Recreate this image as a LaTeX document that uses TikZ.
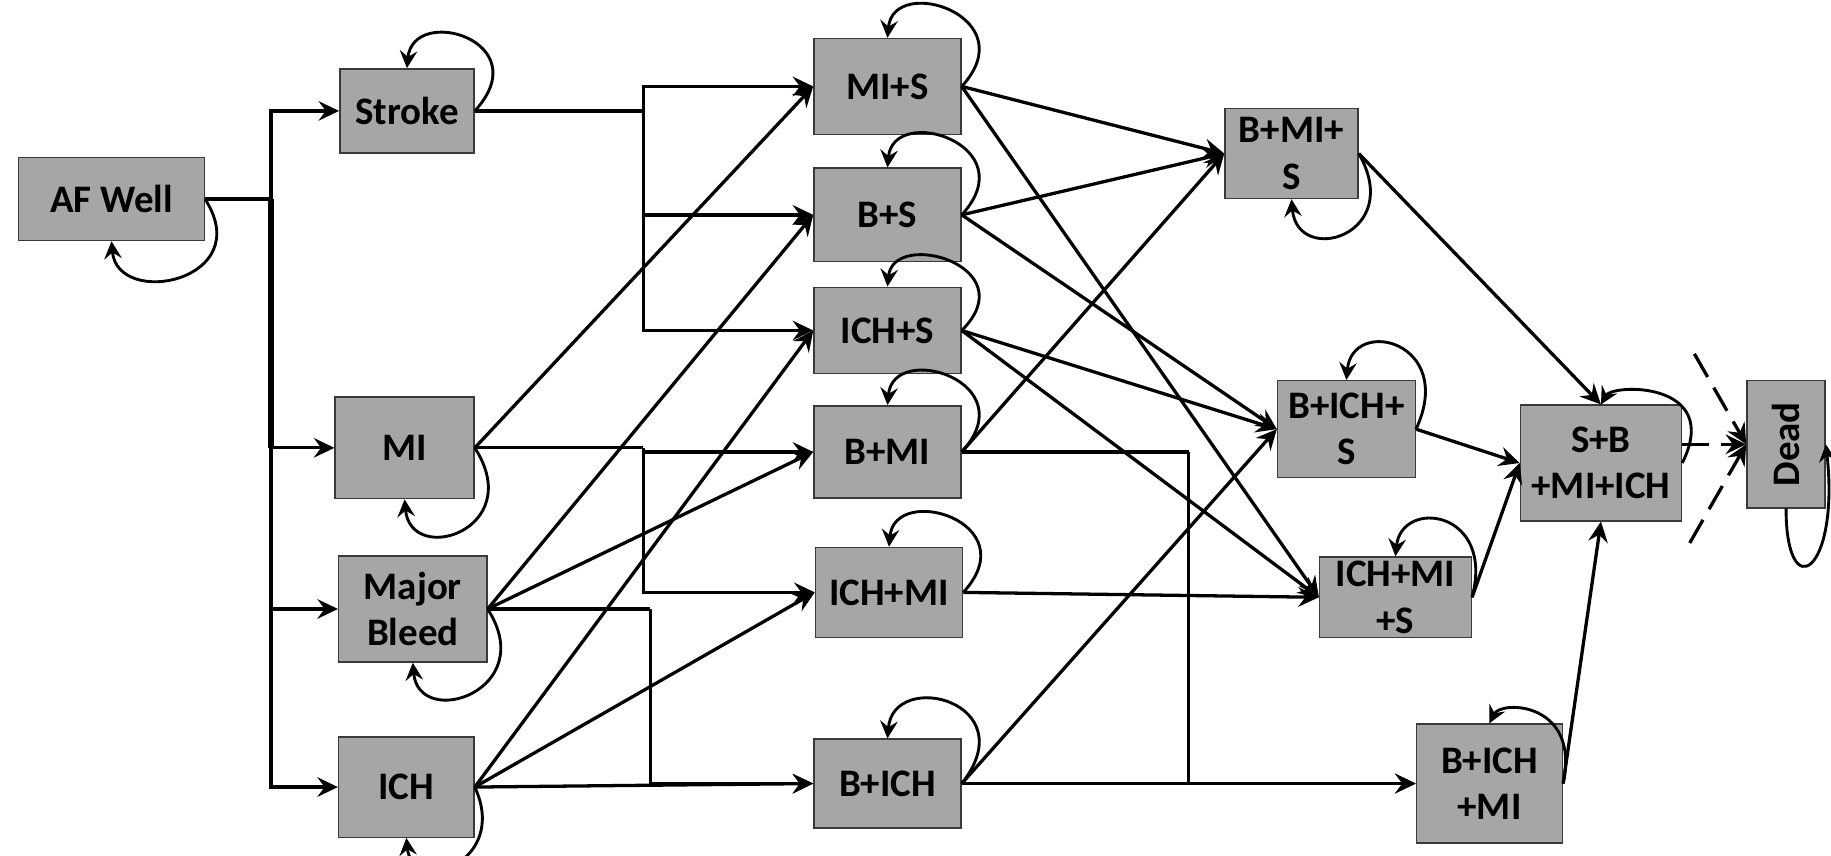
\documentclass[tikz,border=0pt]{standalone}
\usepackage{fontspec}
\usepackage{graphicx}
\setmainfont{Carlito}
\usetikzlibrary{arrows.meta}
\definecolor{boxgray}{HTML}{A6A6A6}
\definecolor{boxline}{HTML}{3A3A3A}
\tikzset{
  box/.style={draw=boxline, fill=boxgray, line width=0.7pt, align=center, inner sep=0pt,
    font=\bfseries\fontsize{19}{22.5}\selectfont},
  conn/.style={line width=1.6pt},
  arr/.style={line width=1.6pt, -{Stealth[length=10pt,width=9.5pt,inset=3.5pt]}},
  selfloop/.style={line width=1.4pt, -{Stealth[length=8.5pt,width=8.5pt,inset=3pt]}},
  dashedarr/.style={line width=1.6pt, dash pattern=on 13pt off 6pt, -{Stealth[length=10pt,width=9.5pt,inset=3.5pt]}}
}
\begin{document}
\begin{tikzpicture}[x=0.02cm, y=-0.02cm]
\useasboundingbox (0,0) rectangle (1568,733);

% ---------- nodes ----------
\node[box, minimum width=3.18cm, minimum height=1.42cm] (AF) at (95.5,170.5) {AF Well};
\node[box, minimum width=2.30cm, minimum height=1.44cm] (Stroke) at (348.5,95) {Stroke};
\node[box, minimum width=2.38cm, minimum height=1.74cm] (MI) at (346.5,383.5) {MI};
\node[box, minimum width=2.54cm, minimum height=1.82cm] (MB) at (353.5,521.5) {Major\\Bleed};
\node[box, minimum width=2.32cm, minimum height=1.72cm] (ICH) at (348,674) {ICH};

\node[box, minimum width=2.52cm, minimum height=1.64cm] (MIS) at (760,74) {MI+S};
\node[box, minimum width=2.52cm, minimum height=1.60cm] (BS) at (760,184) {B+S};
\node[box, minimum width=2.52cm, minimum height=1.48cm] (ICHS) at (760,283) {ICH+S};
\node[box, minimum width=2.52cm, minimum height=1.58cm] (BMI) at (760,387) {B+MI};
\node[box, minimum width=2.52cm, minimum height=1.54cm] (ICHMI) at (761.3,507.3) {ICH+MI};
\node[box, minimum width=2.52cm, minimum height=1.52cm] (BICH) at (760,671) {B+ICH};

\node[box, minimum width=2.28cm, minimum height=1.54cm] (BMIS) at (1106,131.5) {B+MI+\\S};
\node[box, minimum width=2.36cm, minimum height=1.66cm] (BICHS) at (1153,367.5) {B+ICH+\\S};
\node[box, minimum width=2.60cm, minimum height=1.38cm] (ICHMIS) at (1195,511.5) {ICH+MI\\+S};
\node[box, minimum width=2.76cm, minimum height=1.98cm] (SBMI) at (1371,396.5) {S+B\\+MI+ICH};
\node[box, minimum width=2.50cm, minimum height=2.04cm] (BICHMI) at (1275.5,671) {B+ICH\\+MI};
\node[box, minimum width=1.34cm, minimum height=2.18cm] (Dead) at (1529.5,380.5) {\rotatebox{90}{Dead}};

% ---------- bus points ----------
\coordinate (b1) at (232,170.5);
\coordinate (b2) at (551,95);
\coordinate (b3) at (551,383.5);
\coordinate (b4) at (557,521.5);
\coordinate (b5) at (1018,387);
\coordinate (d1) at (1451,303);
\coordinate (d2) at (1447,465);

% ---------- AF Well bus ----------
\draw[conn] (AF.east) -- (b1);
\draw[line width=2.6pt] (b1) -- (b1 |- MI);
\draw[arr] (b1) |- (Stroke);
\draw[arr] (b1) |- (MI);
\draw[arr] (b1) |- (MB);
\draw[arr] (b1) |- (ICH);

% ---------- Stroke bus ----------
\draw[conn] (Stroke.east) -- (b2);
\draw[arr] (b2) |- (MIS);
\draw[arr] (b2) |- (BS);
\draw[arr] (b2) |- (ICHS);

% ---------- MI ----------
\draw[conn] (MI.east) -- (b3);
\draw[arr] (b3) |- (BMI);
\draw[arr] (b3) |- (ICHMI);
\draw[arr] (MI.east) -- (MIS.west);

% ---------- Major Bleed ----------
\draw[conn] (MB.east) -- (b4);
\draw[arr] (b4) |- (BICH);
\draw[arr] (MB.east) -- (BS.west);
\draw[arr] (MB.east) -- (BMI.west);

% ---------- ICH ----------
\draw[arr] (ICH.east) -- (BICH.west);
\draw[arr] (ICH.east) -- (ICHS.west);
\draw[arr] (ICH.east) -- (ICHMI.west);

% ---------- middle to right ----------
\draw[arr] (MIS.east) -- (BMIS.west);
\draw[arr] (BS.east) -- (BMIS.west);
\draw[arr] (BMI.east) -- (BMIS.west);
\draw[arr] (MIS.east) -- (ICHMIS.west);
\draw[arr] (BS.east) -- (BICHS.west);
\draw[arr] (ICHS.east) -- (BICHS.west);
\draw[arr] (ICHS.east) -- (ICHMIS.west);
\draw[arr] (ICHMI.east) -- (ICHMIS.west);
\draw[arr] (BICH.east) -- (BICHS.west);
\draw[conn] (BMI.east) -- (b5);
\draw[arr] (b5) |- (BICHMI);
\draw[arr] (BICH.east) -- (BICHMI.west);

% ---------- right to final ----------
\draw[arr] (BMIS.east) -- (SBMI.north);
\draw[arr] (BICHS.east) -- (SBMI.west);
\draw[arr] (ICHMIS.east) -- (SBMI.west);
\draw[arr] (BICHMI.east) -- (SBMI.south);

% ---------- to Dead ----------
\draw[dashedarr] (SBMI.east |- Dead.west) -- (Dead.west);
\draw[dashedarr] (d1) -- (Dead.west);
\draw[dashedarr] (d2) -- (Dead.west);

% ---------- self loops ----------
\draw[selfloop] (AF.east) .. controls +(45,70) and +(5,58) .. (AF.south);
\draw[selfloop] (MI.east) .. controls +(45,70) and +(5,58) .. (MI.south);
\draw[selfloop] (MB.east) .. controls +(45,70) and +(5,58) .. (MB.south);
\draw[selfloop] (ICH.east) .. controls +(30,65) and +(5,50) .. (ICH.south);
\draw[selfloop] (BMIS.east) .. controls +(40,70) and +(5,58) .. (BMIS.south);

\draw[selfloop] (Stroke.east) .. controls +(55,-60) and +(5,-55) .. (Stroke.north);
\draw[selfloop] (MIS.east) .. controls +(55,-60) and +(5,-55) .. (MIS.north);
\draw[selfloop] (BS.east) .. controls +(55,-60) and +(5,-55) .. (BS.north);
\draw[selfloop] (ICHS.east) .. controls +(55,-55) and +(5,-50) .. (ICHS.north);
\draw[selfloop] (BMI.east) .. controls +(55,-60) and +(5,-55) .. (BMI.north);
\draw[selfloop] (ICHMI.east) .. controls +(55,-60) and +(5,-55) .. (ICHMI.north);
\draw[selfloop] (BICH.east) .. controls +(55,-70) and +(5,-60) .. (BICH.north);
\draw[selfloop] (BICHS.east) .. controls +(35,-75) and +(5,-55) .. (BICHS.north);
\draw[selfloop] (ICHMIS.east) .. controls +(20,-75) and +(5,-50) .. (ICHMIS.north);
\draw[selfloop] (SBMI.east) .. controls +(35,-70) and +(10,-18) .. (SBMI.north);
\draw[selfloop] (BICHMI.east) .. controls +(15,-70) and +(10,-20) .. (BICHMI.north);
\draw[selfloop] (Dead.south) .. controls +(0,85) and +(12,110) .. (Dead.east);
\end{tikzpicture}
\end{document}
